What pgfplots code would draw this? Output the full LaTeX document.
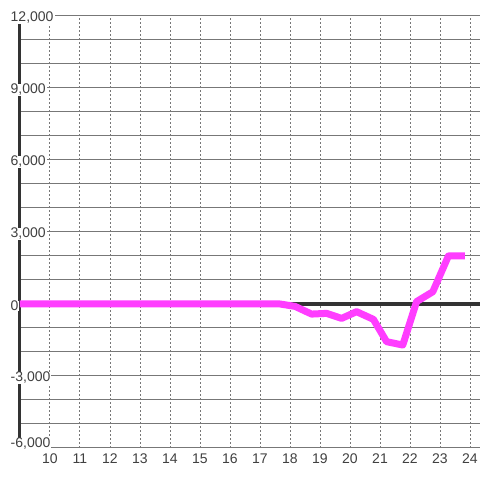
\documentclass[border=0pt]{standalone}
\usepackage{fontspec}
\setmainfont{Liberation Sans}
\usepackage{pgfplots}
\pgfplotsset{compat=1.18}

\definecolor{txtc}{HTML}{404040}
\definecolor{axc}{HTML}{333333}
\definecolor{gridc}{HTML}{777777}
\definecolor{linec}{HTML}{FF3DFF}

\begin{document}
\begin{tikzpicture}
\begin{axis}[
    set layers=standard,
    scale only axis, width=460pt, height=432pt,
    xmin=9, xmax=24.3333, ymin=-6000, ymax=12000,
    clip=false, scaled ticks=false,
    axis x line*=bottom, x axis line style={draw=none},
    axis y line*=left, y axis line style={axc, line width=3pt, -},
    xtick={10,...,24},
    ytick={-3000,0,3000,6000,9000,12000},
    yticklabels={-3{,}000,0,3{,}000,6{,}000,9{,}000,12{,}000},
    minor ytick={-5000,-4000,-2000,-1000,1000,2000,4000,5000,7000,8000,10000,11000},
    extra y ticks={-6000},
    extra y tick labels={-6{,}000},
    extra y tick style={major grid style={gridc, line width=1pt}, yticklabel style={yshift=6pt}},
    major tick length=0pt, minor tick length=0pt,
    xmajorgrids, ymajorgrids, yminorgrids,
    y grid style={gridc, line width=1pt},
    x grid style={gridc, line width=1pt, dash pattern=on 2pt off 2pt},
    minor y grid style={gridc, line width=1pt},
    tick label style={font=\fontsize{14}{16}\selectfont, text=txtc},
    /pgf/number format/assume math mode=true,
    yticklabel style={anchor=west, xshift=-10.5pt, yshift=-2pt, fill=white, inner xsep=1pt, inner ysep=0.5pt},
    xticklabel style={yshift=-2pt},
]
\pgfonlayer{axis background}
\fill[white] ([xshift=-20pt,yshift=-32pt]rel axis cs:0,0) rectangle ([yshift=16pt]rel axis cs:1,1);
\endpgfonlayer
\addplot[axc, line width=3.5pt] coordinates {(9,0) (24.3333,0)};
\addplot[linec, line width=7pt, line join=round] coordinates {
    (9,0) (17.67,0) (18.17,-100) (18.72,-420) (19.22,-390) (19.72,-600)
    (20.22,-320) (20.78,-640) (21.22,-1570) (21.76,-1710) (22.22,100)
    (22.76,510) (23.28,2000) (23.83,2000)};
\end{axis}
\pgfresetboundingbox
\useasboundingbox (-20pt,-32pt) rectangle (460pt,448pt);
\end{tikzpicture}
\end{document}
